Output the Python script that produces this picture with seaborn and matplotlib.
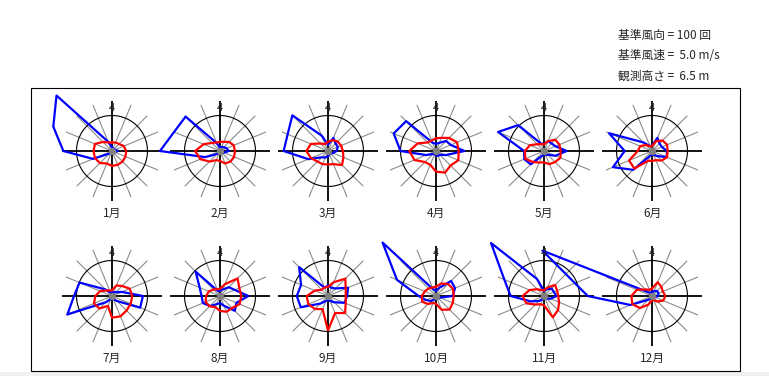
import numpy as np
import matplotlib
matplotlib.use('Agg')
import matplotlib.pyplot as plt
import seaborn as sns
from matplotlib.patches import Rectangle

# スタイル設定 (set_style の後でフォントを指定)
sns.set_style('white')
plt.rcParams['font.family'] = ['Noto Sans CJK JP', 'DejaVu Sans']

W, H = 769, 376

# 16方位 (北から時計回り)
directions = ['N', 'NNE', 'NE', 'ENE', 'E', 'ESE', 'SE', 'SSE',
              'S', 'SSW', 'SW', 'WSW', 'W', 'WNW', 'NW', 'NNW']
months = [f'{i}月' for i in range(1, 13)]

ref_count = 100   # 基準風向 (回)
ref_speed = 5.0   # 基準風速 (m/s)
obs_height = 6.5  # 観測高さ (m)

# 風向出現回数 (回)
freq_jan = [10, 8, 8, 10, 17, 8, 5, 5, 5, 5, 10, 58, 137, 179, 221, 28]
freq_feb = [10, 12, 15, 20, 25, 12, 8, 5, 5, 5, 12, 45, 169, 140, 137, 24]
freq_mar = [18, 40, 30, 30, 24, 15, 10, 10, 15, 20, 25, 60, 125, 123, 142, 47]
freq_apr = [20, 25, 40, 45, 80, 30, 15, 15, 12, 10, 12, 30, 100, 129, 119, 25]
freq_may = [20, 30, 30, 35, 64, 35, 15, 12, 10, 15, 53, 60, 56, 140, 103, 23]
freq_jun = [15, 40, 30, 30, 42, 45, 20, 12, 10, 15, 75, 119, 77, 131, 34, 15]
freq_jul = [10, 12, 15, 30, 87, 86, 20, 10, 8, 10, 25, 136, 107, 99, 26, 10]
freq_aug = [15, 20, 35, 45, 80, 50, 59, 30, 20, 25, 40, 52, 52, 62, 97, 15]
freq_sep = [30, 25, 30, 61, 54, 50, 25, 15, 10, 15, 30, 83, 88, 82, 115, 25]
freq_oct = [15, 25, 60, 58, 47, 12, 8, 8, 8, 10, 20, 30, 49, 119, 213, 20]
freq_nov = [15, 20, 30, 30, 35, 20, 10, 8, 8, 10, 20, 40, 94, 121, 211, 52]
freq_dec = [10, 15, 20, 20, 17, 8, 5, 5, 5, 8, 15, 66, 181, 334, 15, 10]

# 風向別平均風速 (m/s)
speed_jan = [1.2, 1.3, 1.4, 1.8, 2.0, 2.05, 2.1, 2.1, 2.1, 1.9, 2.4, 2.6, 2.6, 2.6, 1.8, 1.3]
speed_feb = [1.3, 1.4, 1.8, 2.1, 2.1, 2.15, 2.1, 1.9, 1.4, 1.4, 2.1, 3.0, 3.5, 2.5, 1.6, 1.3]
speed_mar = [1.3, 1.65, 1.9, 2.0, 2.1, 2.35, 2.8, 2.0, 1.9, 2.0, 2.1, 2.6, 3.05, 2.6, 1.5, 1.05]
speed_apr = [1.8, 2.0, 2.6, 3.2, 3.2, 3.4, 2.9, 3.3, 2.9, 2.1, 2.2, 3.3, 3.75, 2.8, 1.7, 1.6]
speed_may = [0.95, 1.5, 2.25, 2.35, 2.35, 2.5, 2.2, 2.0, 1.6, 1.75, 2.2, 2.85, 2.7, 2.15, 1.35, 1.05]
speed_jun = [0.7, 1.5, 2.1, 2.3, 2.2, 2.3, 1.9, 1.4, 1.4, 1.5, 3.5, 3.5, 2.0, 1.8, 1.2, 0.7]
speed_jul = [0.8, 1.6, 2.0, 2.7, 2.85, 2.85, 2.9, 3.1, 3.05, 1.5, 2.5, 2.75, 2.35, 1.8, 1.1, 0.85]
speed_aug = [1.0, 1.8, 3.5, 2.95, 3.0, 3.0, 2.4, 2.4, 2.1, 1.7, 2.05, 2.2, 1.95, 1.7, 1.3, 1.05]
speed_sep = [1.3, 2.1, 3.45, 2.7, 2.5, 2.7, 3.4, 2.6, 4.85, 2.0, 2.6, 3.0, 3.0, 2.0, 1.25, 1.3]
speed_oct = [1.3, 1.9, 2.4, 2.6, 2.5, 2.55, 2.7, 2.1, 1.1, 1.05, 1.6, 2.1, 2.0, 1.7, 1.5, 1.3]
speed_nov = [0.8, 1.3, 2.2, 2.0, 2.0, 2.3, 2.8, 3.25, 1.3, 1.25, 1.7, 2.7, 3.0, 2.2, 1.35, 0.9]
speed_dec = [1.05, 2.1, 1.85, 1.65, 1.9, 1.7, 1.1, 0.65, 0.6, 1.3, 2.4, 3.0, 2.9, 2.3, 1.3, 0.95]

freqs = [freq_jan, freq_feb, freq_mar, freq_apr, freq_may, freq_jun,
         freq_jul, freq_aug, freq_sep, freq_oct, freq_nov, freq_dec]
speeds = [speed_jan, speed_feb, speed_mar, speed_apr, speed_may, speed_jun,
          speed_jul, speed_aug, speed_sep, speed_oct, speed_nov, speed_dec]

# レイアウト (ピクセル)
col_x = [112, 220, 328, 436, 544, 652]
row_y = [151, 296]
R_PX = 50          # 放射線の長さ
CIRCLE_PX = 35.5   # 基準円の半径
RMAX = ref_count * R_PX / CIRCLE_PX

theta = np.deg2rad(np.arange(16) * 22.5)
theta_c = np.append(theta, 2 * np.pi)


def closed(vals):
    vals = np.asarray(vals, dtype=float)
    return np.append(vals, vals[0])


def draw_rose(fig, cx, cy, label, freq, speed):
    ax = fig.add_axes([(cx - R_PX) / W, 1 - (cy + R_PX) / H, 2 * R_PX / W, 2 * R_PX / H],
                      projection='polar')
    ax.set_theta_zero_location('N')
    ax.set_theta_direction(-1)
    ax.set_ylim(0, RMAX)
    ax.axis('off')
    ax.patch.set_visible(False)

    # 放射線 (東西南北は黒)
    for i, th in enumerate(theta):
        if i % 4 == 0:
            ax.plot([th, th], [0, RMAX], color='black', lw=1.3, zorder=1)
        else:
            ax.plot([th, th], [0, RMAX], color='#8c8c8c', lw=0.8, zorder=1)
    # 基準円
    t = np.linspace(0, 2 * np.pi, 200)
    ax.plot(t, np.full_like(t, ref_count), color='black', lw=0.8, zorder=1)

    sns.lineplot(x=theta_c, y=closed(freq), sort=False, estimator=None,
                 color='#0000ff', lw=1.6, ax=ax, clip_on=False, zorder=3)
    sp = closed(speed) / ref_speed * ref_count
    sns.lineplot(x=theta_c, y=sp, sort=False, estimator=None,
                 color='#ff0000', lw=1.6, ax=ax, clip_on=False, zorder=4)
    ax.scatter([0], [0], s=18, color='#808080', zorder=5, clip_on=False)

    fig.text(cx / W, 1 - (cy - 43) / H, '4', ha='center', va='center', fontsize=8)
    fig.text(cx / W, 1 - (cy + 62) / H, label, ha='center', va='center', fontsize=8.5)


fig = plt.figure(figsize=(W / 100, H / 100), dpi=100)
fig.patch.set_facecolor('white')

# 下端の灰色帯と外枠
fig.add_artist(Rectangle((0, 0), 1, 4.5 / H, transform=fig.transFigure,
                         facecolor='#f0f0f0', edgecolor='none'))
fig.add_artist(Rectangle((30.5 / W, 1 - 371 / H), (740 - 30.5) / W, (371 - 87.5) / H,
                         transform=fig.transFigure, facecolor='none',
                         edgecolor='black', lw=0.8))

for m in range(12):
    cx = col_x[m % 6]
    cy = row_y[m // 6]
    draw_rose(fig, cx, cy, months[m], freqs[m], speeds[m])

info = [f'基準風向 = {ref_count} 回',
        f'基準風速 =  {ref_speed:.1f} m/s',
        f'観測高さ =  {obs_height:.1f} m']
for k, s in enumerate(info):
    fig.text(618 / W, 1 - (35 + 20.5 * k) / H, s, ha='left', va='center', fontsize=8.5)

fig.savefig('out.png', dpi=100)
